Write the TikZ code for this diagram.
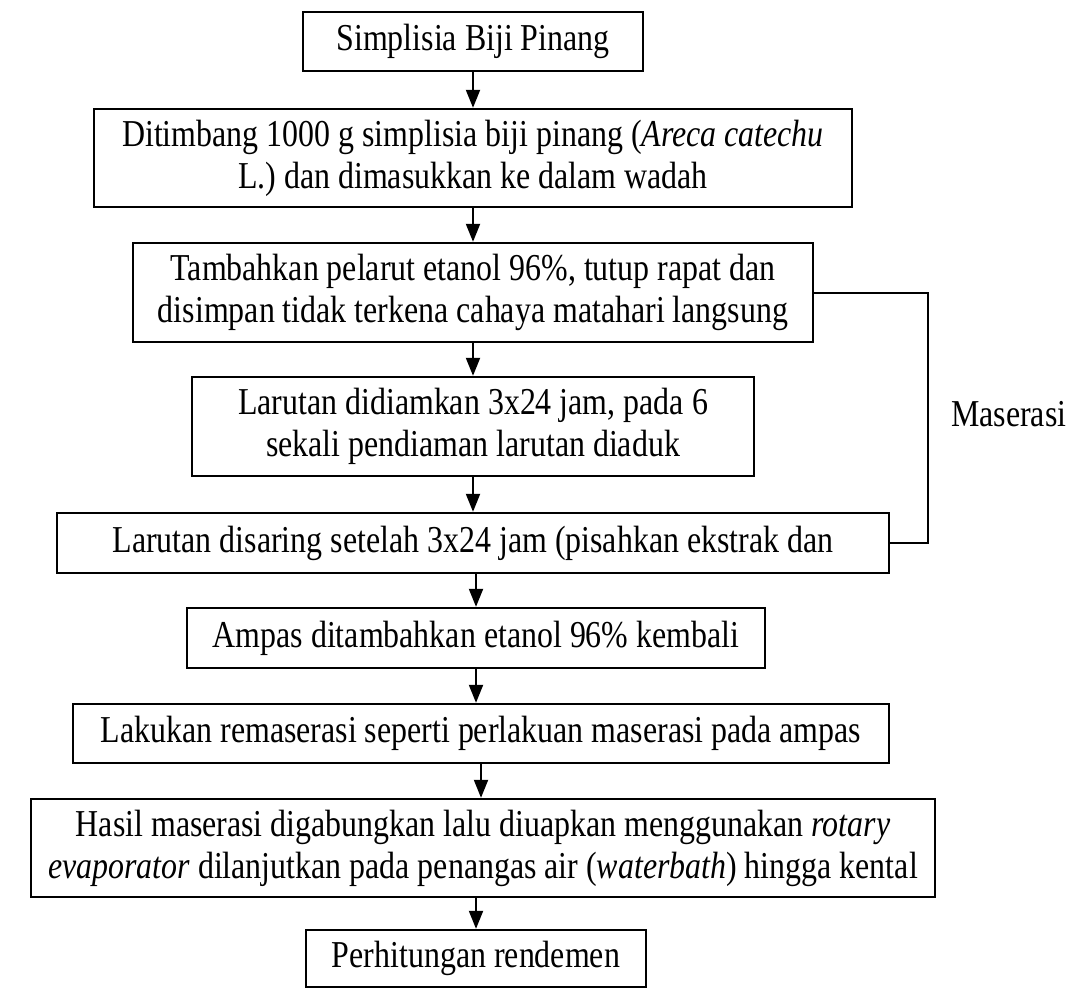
\documentclass[tikz,border=0pt]{standalone}
\usepackage{fontspec}
\setmainfont{Liberation Serif}[FakeStretch=0.84]
\usetikzlibrary{arrows.meta}
\begin{document}
\begin{tikzpicture}[x=1pt,y=-1pt,
  box/.style={draw, line width=2.4pt, inner sep=0pt, align=center,
    font=\fontsize{38}{42}\selectfont},
  arr/.style={line width=2pt, -{Triangle[length=18pt,width=14pt]}},
  link/.style={line width=2pt},
  lbl/.style={inner sep=0pt, anchor=west, font=\fontsize{38}{42}\selectfont}]
\useasboundingbox (0,0) rectangle (1083,989);
\node[box, minimum width=340, minimum height=59] (b1) at (473,41.5) {Simplisia Biji Pinang};
\node[box, minimum width=758, minimum height=98] (b2) at (473,158) {Ditimbang 1000 g simplisia biji pinang (\textit{Areca catechu}\\ L.) dan dimasukkan ke dalam wadah};
\node[box, minimum width=680, minimum height=99] (b3) at (473,292.5) {Tambahkan pelarut etanol 96\%, tutup rapat dan\\ disimpan tidak terkena cahaya matahari langsung};
\node[box, minimum width=562, minimum height=99] (b4) at (473,426.5) {Larutan didiamkan 3x24 jam, pada 6\\ sekali pendiaman larutan diaduk};
\node[box, minimum width=832, minimum height=60] (b5) at (473,543) {Larutan disaring setelah 3x24 jam (pisahkan ekstrak dan};
\node[box, minimum width=578, minimum height=60] (b6) at (476,638) {Ampas ditambahkan etanol 96\% kembali};
\node[box, minimum width=816, minimum height=59] (b7) at (481,733.5) {Lakukan remaserasi seperti perlakuan maserasi pada ampas};
\node[box, minimum width=904, minimum height=98] (b8) at (483,848) {Hasil maserasi digabungkan lalu diuapkan menggunakan \textit{rotary}\\ \textit{evaporator} dilanjutkan pada penangas air (\textit{waterbath}) hingga kental};
\node[box, minimum width=340, minimum height=57] (b9) at (476,958.5) {Perhitungan rendemen};
\draw[arr] (b1) -- (b2);
\draw[arr] (b2) -- (b3);
\draw[arr] (b3) -- (b4);
\draw[arr] (b4) -- (b5);
\draw[arr] (b5.south -| b6.north) -- (b6.north);
\draw[arr] (b6.south) -- (b6.south |- b7.north);
\draw[arr] (b7.south) -- (b7.south |- b8.north);
\draw[arr] (b9.north |- b8.south) -- (b9.north);
\draw[link] (b3.east) -- ++(114,0) coordinate (bk) |- (b5.east);
\node[lbl] (mas) at (951,414) {Maserasi};
\end{tikzpicture}
\end{document}
